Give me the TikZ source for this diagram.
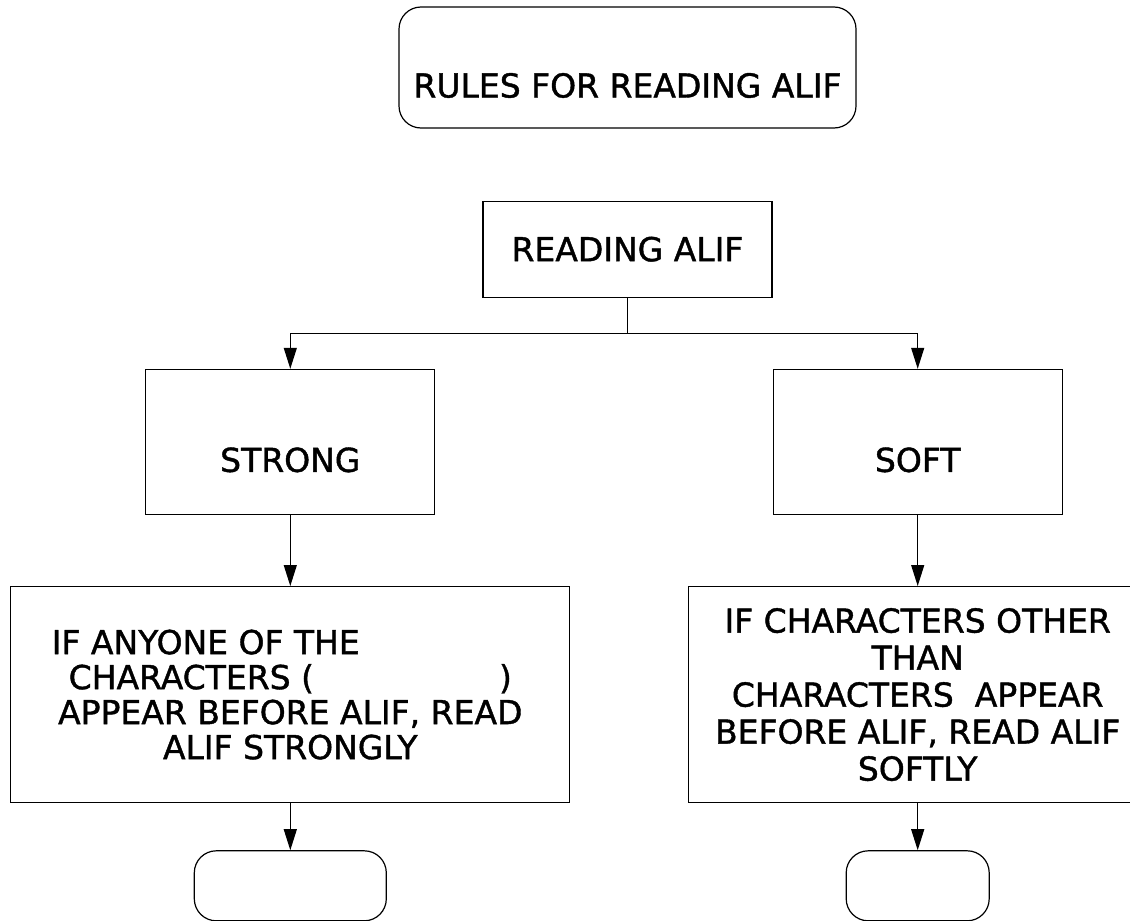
\documentclass[tikz,border=0pt]{standalone}
\usepackage{fontspec}
\setmainfont{DejaVu Sans}[BoldFont=DejaVu Sans,BoldFeatures={FakeBold=1.2}]
\usepackage{tikz}
\usetikzlibrary{arrows.meta,positioning}
\tikzset{
  flowtitle/.style = {
    rectangle,
    draw,
    rounded corners=11pt,
    align=center,
    font=\fontsize{16.5}{18}\selectfont\bfseries,
    text height=30pt,
    text depth=0pt,
    minimum width=228.5pt,
    minimum height=60.5pt
  },
  flowproc/.style = {
    rectangle,
    draw,
    align=center,
    font=\fontsize{16.5}{18}\selectfont\bfseries,
    minimum width=144.5pt,
    minimum height=48pt
  },
  flowkind/.style = {
    flowproc,
    text height=30pt,
    text depth=0pt,
    minimum height=72.5pt
  },
  flowrule/.style = {
    rectangle,
    draw,
    align=center,
    minimum height=108pt
  },
  flowend/.style = {
    rectangle,
    draw,
    rounded corners=11pt,
    minimum height=35pt
  },
  flowarrow/.style = {
    -{Triangle[length=10.5pt,width=6.5pt]}
  }
}

\begin{document}
\begin{tikzpicture}[x=0.5pt,y=-0.5pt,line width=0.6pt]
    \useasboundingbox (0,0) rectangle (1130,921);
    \node[flowtitle] (rules) at (627.5,67.5) {RULES FOR READING ALIF};
    \node[flowproc, below=36pt of rules] (reading) {READING ALIF};
    \node[flowkind, below left=35.5pt and 23.5pt of reading] (strong) {STRONG};
    \node[flowkind, below right=35.5pt and 0pt of reading] (soft) {SOFT};
    \node[flowrule, minimum width=279.5pt, font=\fontsize{16.5}{17.5}\selectfont\bfseries, below=35.5pt of strong] (strongrule) {IF ANYONE OF THE\hspace*{84.5pt}\\CHARACTERS (\hspace*{92.5pt})\\APPEAR BEFORE ALIF, READ\\ALIF STRONGLY};
    \node[flowrule, minimum width=229.5pt, font=\fontsize{16.5}{18.5}\selectfont\bfseries, below=35.5pt of soft] (softrule) {IF CHARACTERS OTHER\\THAN\hspace*{79pt}\\CHARACTERS\ \ APPEAR\\BEFORE ALIF, READ ALIF\\SOFTLY};
    \node[flowend, minimum width=96pt, below=23.5pt of strongrule] (strongend) {};
    \node[flowend, minimum width=71.5pt, below=23.5pt of softrule] (softend) {};
    \draw (reading.south) -- ++(0pt,-18pt) coordinate (split);
    \draw[flowarrow] (split) -| (strong.north);
    \draw[flowarrow] (split) -| (soft.north);
    \draw[flowarrow] (strong) -- (strongrule);
    \draw[flowarrow] (soft) -- (softrule);
    \draw[flowarrow] (strongrule) -- (strongend);
    \draw[flowarrow] (softrule) -- (softend);
\end{tikzpicture}
\end{document}
